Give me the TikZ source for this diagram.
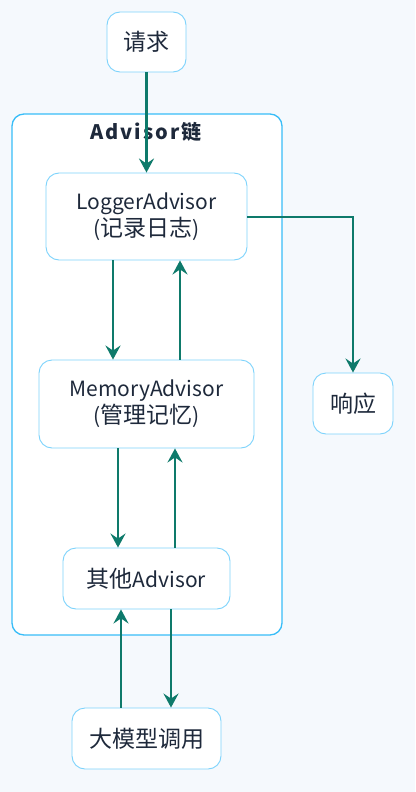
\documentclass[tikz,border=0pt]{standalone}
\usepackage{fontspec}
\setmainfont{Noto Sans CJK SC}
\usetikzlibrary{arrows.meta,positioning}
\definecolor{bgc}{HTML}{F5F9FD}
\definecolor{nodeb}{HTML}{7DD3FC}
\definecolor{clusterb}{HTML}{38BDF8}
\definecolor{arr}{HTML}{0E7A6B}
\definecolor{txt}{HTML}{1E293B}
\newcommand{\cjk}[1]{{\fontsize{23}{27}\selectfont #1}}
\tikzset{
  box/.style={draw=nodeb, line width=0.9pt, fill=white, rounded corners=13pt, text=txt, font=\fontsize{21}{27}\selectfont, align=center, inner sep=0pt},
  flow/.style={draw=arr, line width=2.9pt, -{Stealth[length=14pt,width=15pt,inset=5pt]}},
}
\begin{document}
\begin{tikzpicture}[x=1pt,y=-1pt]
\useasboundingbox (0,0) rectangle (415,792);
\fill[bgc] (0,0) rectangle (415,792);
% cluster
\node[draw=clusterb, line width=1.3pt, fill=white, rounded corners=12pt, minimum width=270pt, minimum height=521pt, inner sep=0pt] (cl) at (147,374.5) {};
\node[text=txt, font=\bfseries\fontsize{20}{24}\selectfont\addfontfeature{LetterSpace=10}] (ttl) at (146,132) {Advisor链};
% nodes
\node[box, minimum width=79pt, minimum height=60pt] (req) at (146.5,42) {\cjk{请求}};
\node[box, minimum width=201pt, minimum height=87pt] (log) at (146.5,216.5) {LoggerAdvisor\\(\cjk{记录日志})};
\node[box, minimum width=215pt, minimum height=88pt] (mem) at (146.5,404) {MemoryAdvisor\\(\cjk{管理记忆})};
\node[box, minimum width=167pt, minimum height=61pt] (oth) at (146.5,578.5) {\cjk{其他}Advisor};
\node[box, minimum width=149pt, minimum height=61pt] (llm) at (146.5,738.5) {\cjk{大模型调用}};
\node[box, minimum width=80pt, minimum height=61pt] (resp) at (353,403.5) {\cjk{响应}};
% connectors
\draw[flow] (req.south) -- (log.north);
\draw[flow] (log.south -| 113,0) -- (mem.north -| 113,0);
\draw[flow] (mem.north -| 180,0) -- (log.south -| 180,0);
\draw[flow] (mem.south -| 118,0) -- (oth.north -| 118,0);
\draw[flow] (oth.north -| 175,0) -- (mem.south -| 175,0);
\draw[flow] (llm.north -| 121,0) -- (oth.south -| 121,0);
\draw[flow] (oth.south -| 171,0) -- (llm.north -| 171,0);
\draw[flow] (log.east |- 0,217) -| (resp.north);
\end{tikzpicture}
\end{document}
